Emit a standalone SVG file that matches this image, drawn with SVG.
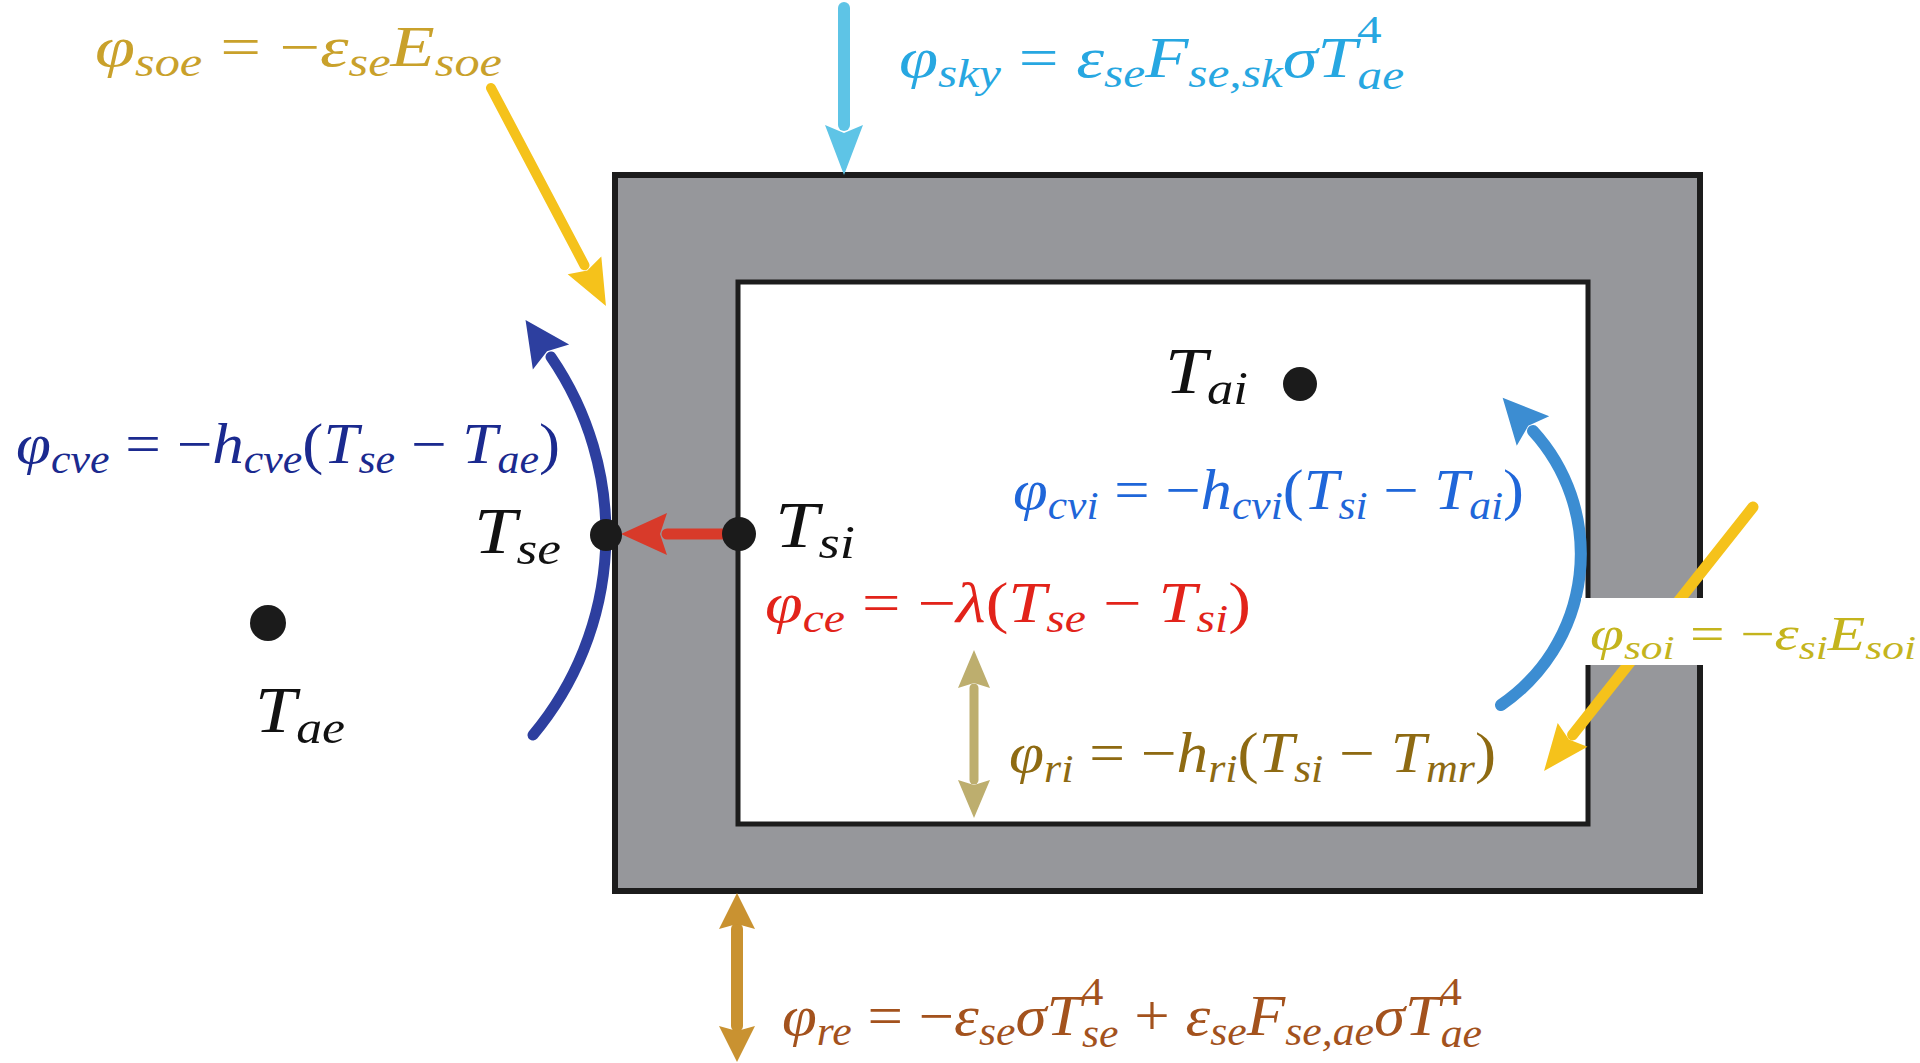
<svg xmlns="http://www.w3.org/2000/svg" width="1920" height="1063" viewBox="0 0 1920 1063">
<style>
.m{font-family:"Liberation Serif","Times New Roman",serif;font-style:italic}
.u{font-style:normal}
.lbl{fill:#111111}
.dot{fill:#1b1b1b}
.ln{fill:none;stroke-linecap:round}
</style>
<defs>
<marker id="mk-yel" markerUnits="userSpaceOnUse" viewBox="0 -30 60 60" markerWidth="60" markerHeight="60" refX="0" refY="0" orient="auto" style="overflow:visible"><path d="M0,-19 L46,0 L0,19 L6,0 Z" fill="#f5c21b"/></marker>
<marker id="mk-sky" markerUnits="userSpaceOnUse" viewBox="0 -30 60 60" markerWidth="60" markerHeight="60" refX="0" refY="0" orient="auto" style="overflow:visible"><path d="M0,-19 L50,0 L0,19 L8,0 Z" fill="#5ec4e6"/></marker>
<marker id="mk-red" markerUnits="userSpaceOnUse" viewBox="0 -30 60 60" markerWidth="60" markerHeight="60" refX="0" refY="0" orient="auto" style="overflow:visible"><path d="M0,-21 L46,0 L0,21 L7,0 Z" fill="#d83a2a"/></marker>
<marker id="mk-navy" markerUnits="userSpaceOnUse" viewBox="0 -30 60 60" markerWidth="60" markerHeight="60" refX="0" refY="0" orient="auto" style="overflow:visible"><path d="M0,-22 L45,0 L0,22 L7,0 Z" fill="#2d3f9f"/></marker>
<marker id="mk-blue" markerUnits="userSpaceOnUse" viewBox="0 -30 60 60" markerWidth="60" markerHeight="60" refX="0" refY="0" orient="auto" style="overflow:visible"><path d="M0,-22 L45,0 L0,22 L7,0 Z" fill="#3c8dd2"/></marker>
<marker id="mk-olive" markerUnits="userSpaceOnUse" viewBox="0 -30 60 60" markerWidth="60" markerHeight="60" refX="0" refY="0" orient="auto-start-reverse" style="overflow:visible"><path d="M0,-16 L38,0 L0,16 L5,0 Z" fill="#bdae6e"/></marker>
<marker id="mk-orange" markerUnits="userSpaceOnUse" viewBox="0 -30 60 60" markerWidth="60" markerHeight="60" refX="0" refY="0" orient="auto-start-reverse" style="overflow:visible"><path d="M0,-18 L36,0 L0,18 L5,0 Z" fill="#c99231"/></marker>
</defs>
<rect x="0" y="0" width="1920" height="1063" fill="#ffffff"/>

<g id="wall">
<rect x="615" y="175" width="1085" height="716" fill="#96979b" stroke="#1c1c1c" stroke-width="6"/>
<rect x="738" y="282" width="850" height="542" fill="#ffffff" stroke="#1c1c1c" stroke-width="5"/>
</g>

<g id="connectors">
<path class="ln" d="M533,735 A313,313 0 0 0 551,357" stroke="#2d3f9f" stroke-width="11" marker-end="url(#mk-navy)"/>
<path class="ln" d="M1501,705 A182.5,182.5 0 0 0 1533,431" stroke="#3c8dd2" stroke-width="12" marker-end="url(#mk-blue)"/>
<path class="ln" d="M491,88 L584.5,265.3" stroke="#f5c21b" stroke-width="10" marker-end="url(#mk-yel)"/>
<path class="ln" d="M844,8 L844,125" stroke="#5ec4e6" stroke-width="12" marker-end="url(#mk-sky)"/>
<path class="ln" d="M724,534 L667,534" stroke="#d83a2a" stroke-width="11" marker-end="url(#mk-red)"/>
<path class="ln" d="M974,688 L974,780" stroke="#bdae6e" stroke-width="9" marker-start="url(#mk-olive)" marker-end="url(#mk-olive)"/>
<path class="ln" d="M737,929 L737,1026" stroke="#c99231" stroke-width="12" marker-start="url(#mk-orange)" marker-end="url(#mk-orange)"/>
<path class="ln" d="M1753,507 L1572.6,734.9" stroke="#f5c21b" stroke-width="11" marker-end="url(#mk-yel)"/>
</g>

<g id="T_se"><circle class="dot" cx="606" cy="535" r="16"/><text class="m lbl" x="474" y="553" font-size="66" textLength="87" lengthAdjust="spacingAndGlyphs">T<tspan font-size="46" dy="11">se</tspan></text></g>
<g id="T_si"><circle class="dot" cx="739" cy="534" r="17"/><text class="m lbl" x="775" y="547" font-size="66" textLength="80" lengthAdjust="spacingAndGlyphs">T<tspan font-size="46" dy="11">si</tspan></text></g>
<g id="T_ai"><circle class="dot" cx="1300" cy="384" r="17"/><text class="m lbl" x="1165" y="393" font-size="66" textLength="83" lengthAdjust="spacingAndGlyphs">T<tspan font-size="46" dy="11">ai</tspan></text></g>
<g id="T_ae"><circle class="dot" cx="268" cy="623" r="18"/><text class="m lbl" x="255" y="732" font-size="66" textLength="90" lengthAdjust="spacingAndGlyphs">T<tspan font-size="46" dy="11">ae</tspan></text></g>

<g id="phi_soe"><text class="m" x="95" y="66" font-size="56" fill="#c9a12b" textLength="407" lengthAdjust="spacingAndGlyphs">φ<tspan font-size="39" dy="10">soe</tspan><tspan class="u" dy="-10"> = −</tspan>ε<tspan font-size="39" dy="10">se</tspan><tspan dy="-10">E</tspan><tspan font-size="39" dy="10">soe</tspan></text></g>

<g id="phi_sky"><text class="m" x="899" y="77" font-size="56" fill="#27a7e1" textLength="505" lengthAdjust="spacingAndGlyphs">φ<tspan font-size="39" dy="10">sky</tspan><tspan class="u" dy="-10"> = </tspan>ε<tspan font-size="39" dy="10">se</tspan><tspan dy="-10">F</tspan><tspan font-size="39" dy="10">se,sk</tspan><tspan dy="-10">σT</tspan><tspan class="u" font-size="39" dy="-34">4</tspan><tspan font-size="39" dx="-19" dy="46">ae</tspan></text></g>

<g id="phi_cve"><text class="m" x="16" y="463" font-size="56" fill="#1b2a8f" textLength="544" lengthAdjust="spacingAndGlyphs">φ<tspan font-size="39" dy="10">cve</tspan><tspan class="u" dy="-10"> = −</tspan>h<tspan font-size="39" dy="10">cve</tspan><tspan class="u" dy="-10">(</tspan>T<tspan font-size="39" dy="10">se</tspan><tspan class="u" dy="-10"> − </tspan>T<tspan font-size="39" dy="10">ae</tspan><tspan class="u" dy="-10">)</tspan></text></g>

<g id="phi_ce"><text class="m" x="765" y="622" font-size="56" fill="#e2231a" textLength="486" lengthAdjust="spacingAndGlyphs">φ<tspan font-size="39" dy="10">ce</tspan><tspan class="u" dy="-10"> = −</tspan>λ<tspan class="u">(</tspan>T<tspan font-size="39" dy="10">se</tspan><tspan class="u" dy="-10"> − </tspan>T<tspan font-size="39" dy="10">si</tspan><tspan class="u" dy="-10">)</tspan></text></g>

<g id="phi_cvi"><text class="m" x="1013" y="509" font-size="56" fill="#1f66d9" textLength="511" lengthAdjust="spacingAndGlyphs">φ<tspan font-size="39" dy="10">cvi</tspan><tspan class="u" dy="-10"> = −</tspan>h<tspan font-size="39" dy="10">cvi</tspan><tspan class="u" dy="-10">(</tspan>T<tspan font-size="39" dy="10">si</tspan><tspan class="u" dy="-10"> − </tspan>T<tspan font-size="39" dy="10">ai</tspan><tspan class="u" dy="-10">)</tspan></text></g>

<g id="phi_ri"><text class="m" x="1009" y="772" font-size="56" fill="#8e6a12" textLength="487" lengthAdjust="spacingAndGlyphs">φ<tspan font-size="39" dy="10">ri</tspan><tspan class="u" dy="-10"> = −</tspan>h<tspan font-size="39" dy="10">ri</tspan><tspan class="u" dy="-10">(</tspan>T<tspan font-size="39" dy="10">si</tspan><tspan class="u" dy="-10"> − </tspan>T<tspan font-size="39" dy="10">mr</tspan><tspan class="u" dy="-10">)</tspan></text></g>

<g id="phi_soi"><rect x="1581" y="598" width="339" height="67" fill="#ffffff"/><text class="m" x="1590" y="650" font-size="48" fill="#c4b41d" textLength="326" lengthAdjust="spacingAndGlyphs">φ<tspan font-size="34" dy="9">soi</tspan><tspan class="u" dy="-9"> = −</tspan>ε<tspan font-size="34" dy="9">si</tspan><tspan dy="-9">E</tspan><tspan font-size="34" dy="9">soi</tspan></text></g>

<g id="phi_re"><text class="m" x="782" y="1035" font-size="56" fill="#a3521d" textLength="700" lengthAdjust="spacingAndGlyphs">φ<tspan font-size="39" dy="10">re</tspan><tspan class="u" dy="-10"> = −</tspan>ε<tspan font-size="39" dy="10">se</tspan><tspan dy="-10">σT</tspan><tspan class="u" font-size="39" dy="-30">4</tspan><tspan font-size="39" dx="-19" dy="42">se</tspan><tspan class="u" dy="-12"> + </tspan>ε<tspan font-size="39" dy="10">se</tspan><tspan dy="-10">F</tspan><tspan font-size="39" dy="10">se,ae</tspan><tspan dy="-10">σT</tspan><tspan class="u" font-size="39" dy="-30">4</tspan><tspan font-size="39" dx="-19" dy="42">ae</tspan></text></g>
</svg>
